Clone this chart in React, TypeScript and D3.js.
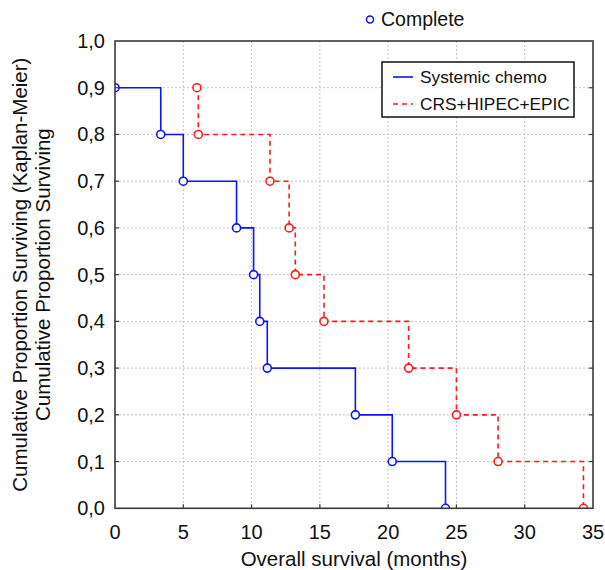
import React from "react";
import * as d3 from "d3";

const xTicks = [0, 5, 10, 15, 20, 25, 30, 35];
const yTicks = [0, 0.1, 0.2, 0.3, 0.4, 0.5, 0.6, 0.7, 0.8, 0.9, 1.0];

const chemoTimes = [0, 3.35, 5.0, 8.9, 10.15, 10.6, 11.15, 17.6, 20.3, 24.2];
const chemoSurv = [0.9, 0.8, 0.7, 0.6, 0.5, 0.4, 0.3, 0.2, 0.1, 0.0];
const crsTimes = [6.0, 6.1, 11.35, 12.75, 13.2, 15.3, 21.5, 25.0, 28.05, 34.3];
const crsSurv = [0.9, 0.8, 0.7, 0.6, 0.5, 0.4, 0.3, 0.2, 0.1, 0.0];

const seriesNames = ["Systemic chemo", "CRS+HIPEC+EPIC"];

const W = 605, H = 570;
const L = 115, R = 593, T = 41, B = 508.3;
const FONT = "'Liberation Sans', Arial, sans-serif";

export default function App() {
  const x = d3.scaleLinear().domain([0, 35]).range([L, R]);
  const y = d3.scaleLinear().domain([0, 1]).range([B, T]);
  const line = d3.line<[number, number]>().x(d => x(d[0])).y(d => y(d[1])).curve(d3.curveStepAfter);
  const chemo: [number, number][] = chemoTimes.map((t, i) => [t, chemoSurv[i]]);
  const crs: [number, number][] = crsTimes.map((t, i) => [t, crsSurv[i]]);
  const fmt = (v: number) => v.toFixed(1).replace(".", ",");
  const blue = "#0a14ff";
  const red = "#ff1a1a";
  const frame = "#3a3a3a";

  return (
    <svg width={W} height={H} style={{ position: "absolute", left: 0, top: 0, background: "#fff" }} fontFamily={FONT}>
      <defs>
        <clipPath id="plotclip">
          <rect x={L} y={T} width={R - L} height={B - T} />
        </clipPath>
      </defs>
      {/* grid */}
      {xTicks.slice(1, -1).map(t => (
        <line key={"gx" + t} x1={x(t)} x2={x(t)} y1={T} y2={B} stroke="#c4c4c4" strokeWidth={1} strokeDasharray="2,2" />
      ))}
      {yTicks.slice(1, -1).map(t => (
        <line key={"gy" + t} x1={L} x2={R} y1={y(t)} y2={y(t)} stroke="#c4c4c4" strokeWidth={1} strokeDasharray="2,2" />
      ))}
      {/* curves */}
      <g clipPath="url(#plotclip)">
        <path d={line(chemo) || ""} fill="none" stroke={blue} strokeWidth={1.6} />
        <path d={line(crs) || ""} fill="none" stroke={red} strokeWidth={1.6} strokeDasharray="5,4" />
        {chemo.map((d, i) => (
          <circle key={"c" + i} cx={x(d[0])} cy={y(d[1])} r={4} fill="#fff" stroke={blue} strokeWidth={1.6} />
        ))}
        {crs.map((d, i) => (
          <circle key={"r" + i} cx={x(d[0])} cy={y(d[1])} r={4} fill="#fff" stroke={red} strokeWidth={1.6} />
        ))}
      </g>
      {/* frame */}
      <rect x={L} y={T} width={R - L} height={B - T} fill="none" stroke={frame} strokeWidth={1.6} />
      {/* ticks inward */}
      {xTicks.slice(1, -1).map(t => (
        <g key={"tx" + t}>
          <line x1={x(t)} x2={x(t)} y1={B} y2={B - 4} stroke={frame} strokeWidth={1.2} />
        </g>
      ))}
      {yTicks.slice(1, -1).map(t => (
        <g key={"ty" + t}>
          <line x1={L} x2={L + 4} y1={y(t)} y2={y(t)} stroke={frame} strokeWidth={1.2} />
          <line x1={R} x2={R - 4} y1={y(t)} y2={y(t)} stroke={frame} strokeWidth={1.2} />
        </g>
      ))}
      {/* tick labels */}
      {xTicks.map(t => (
        <text key={"lx" + t} x={x(t)} y={539} fontSize={20} textAnchor="middle" fill="#111">{t}</text>
      ))}
      {yTicks.map(t => (
        <text key={"ly" + t} x={105} y={y(t) + 7} fontSize={20} textAnchor="end" fill="#111">{fmt(t)}</text>
      ))}
      {/* axis titles */}
      <text x={(L + R) / 2} y={566} fontSize={20.5} textAnchor="middle" fill="#111">Overall survival (months)</text>
      <text transform={`translate(27,${(T + B) / 2}) rotate(-90)`} fontSize={20.5} textAnchor="middle" fill="#111">
        Cumulative Proportion Surviving (Kaplan-Meier)
      </text>
      <text transform={`translate(50,${(T + B) / 2}) rotate(-90)`} fontSize={20.5} textAnchor="middle" fill="#111">
        Cumulative Proportion Surviving
      </text>
      {/* top legend */}
      <circle cx={370} cy={19.5} r={3.5} fill="#fff" stroke={blue} strokeWidth={1.5} />
      <text x={381} y={26} fontSize={19.5} fill="#111">Complete</text>
      {/* legend box */}
      <rect x={382} y={62} width={192} height={55} fill="#fff" stroke="#111" strokeWidth={1.5} />
      <line x1={393} x2={413} y1={77} y2={77} stroke={blue} strokeWidth={1.6} />
      <text x={420} y={83} fontSize={17.3} fill="#111">{seriesNames[0]}</text>
      <line x1={393} x2={413} y1={104} y2={104} stroke={red} strokeWidth={1.6} strokeDasharray="5,4" />
      <text x={420} y={110} fontSize={17.3} fill="#111">{seriesNames[1]}</text>
    </svg>
  );
}
